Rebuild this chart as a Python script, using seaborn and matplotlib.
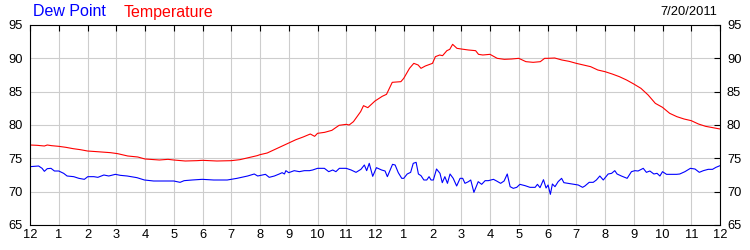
import matplotlib
matplotlib.use("Agg")
import matplotlib.pyplot as plt
import seaborn as sns
import pandas as pd

# ---- data (hours after midnight, degrees F) ----
temp_hours = [0.0, 0.25, 0.5, 0.6, 0.75, 1.0, 1.25, 1.5, 1.75, 2.0, 2.33, 2.8, 3.05, 3.4, 3.75,
              4.0, 4.5, 4.8, 5.0, 5.4, 5.8, 6.0, 6.5, 7.0, 7.3, 7.6, 7.9, 8.0, 8.25, 8.5, 8.75,
              9.0, 9.25, 9.5, 9.75, 9.9, 10.0, 10.25, 10.5, 10.75, 11.0, 11.1, 11.25, 11.5, 11.6,
              11.75, 12.0, 12.25, 12.4, 12.5, 12.6, 12.9, 13.0, 13.2, 13.35, 13.5, 13.6, 13.75,
              14.0, 14.1, 14.25, 14.35, 14.5, 14.6, 14.7, 14.85, 15.0, 15.25, 15.5, 15.6, 15.75,
              16.0, 16.25, 16.5, 16.75, 17.0, 17.25, 17.5, 17.75, 17.9, 18.0, 18.25, 18.5, 18.75,
              19.0, 19.25, 19.5, 19.75, 20.0, 20.25, 20.5, 20.75, 21.0, 21.25, 21.5, 21.75, 22.0,
              22.25, 22.5, 22.75, 23.0, 23.25, 23.5, 23.75, 24.0]
temp_values = [77.0, 76.95, 76.85, 77.0, 76.9, 76.8, 76.65, 76.45, 76.3, 76.1, 76.0, 75.85, 75.7, 75.35, 75.2,
               74.9, 74.75, 74.85, 74.75, 74.6, 74.65, 74.7, 74.6, 74.65, 74.8, 75.1, 75.4, 75.55, 75.8, 76.3, 76.8,
               77.3, 77.8, 78.2, 78.65, 78.3, 78.75, 78.9, 79.2, 79.95, 80.1, 80.0, 80.5, 82.0, 82.9,
               82.6, 83.6, 84.3, 84.6, 85.5, 86.4, 86.5, 87.0, 88.5, 89.25, 89.0, 88.5, 88.85,
               89.25, 90.25, 90.5, 90.4, 91.15, 91.35, 92.1, 91.5, 91.4, 91.25, 91.15, 90.6, 90.5,
               90.6, 90.0, 89.85, 89.9, 90.0, 89.5, 89.4, 89.5, 90.0, 90.0, 90.05, 89.75, 89.55,
               89.25, 89.0, 88.75, 88.25, 88.0, 87.65, 87.25, 86.75, 86.15, 85.5, 84.5, 83.25, 82.65,
               81.75, 81.25, 80.9, 80.65, 80.15, 79.8, 79.6, 79.4]

dew_hours = [0.0, 0.3, 0.42, 0.5, 0.6, 0.73, 0.85, 1.0, 1.17, 1.29, 1.52, 1.7, 1.89, 2.01, 2.22, 2.36,
             2.57, 2.74, 2.97, 3.14, 3.38, 3.72, 3.98, 4.3, 4.65, 5.0, 5.22, 5.36, 5.64, 5.99, 6.39,
             6.86, 7.2, 7.57, 7.8, 7.92, 8.09, 8.19, 8.32, 8.5, 8.67, 8.77, 8.85, 8.9, 9.0, 9.19,
             9.37, 9.54, 9.72, 9.83, 10.0, 10.24, 10.39, 10.53, 10.64, 10.76, 11.0, 11.17, 11.34,
             11.51, 11.63, 11.71, 11.8, 11.92, 12.05, 12.23, 12.35, 12.43, 12.61, 12.7, 12.81, 12.93,
             13.0, 13.12, 13.24, 13.33, 13.43, 13.51, 13.6, 13.7, 13.8, 13.88, 13.95, 14.03, 14.14,
             14.26, 14.34, 14.43, 14.52, 14.61, 14.72, 14.84, 14.96, 15.05, 15.13, 15.25, 15.33,
             15.44, 15.59, 15.71, 15.83, 15.94, 16.12, 16.23, 16.37, 16.49, 16.6, 16.7, 16.81, 16.93,
             17.04, 17.22, 17.39, 17.57, 17.65, 17.74, 17.86, 17.95, 18.02, 18.1, 18.17, 18.26, 18.37,
             18.49, 18.57, 18.72, 18.89, 19.07, 19.22, 19.3, 19.45, 19.59, 19.7, 19.82, 19.94, 20.11,
             20.23, 20.34, 20.42, 20.57, 20.77, 20.92, 21.04, 21.15, 21.33, 21.44, 21.56, 21.7, 21.81,
             21.91, 22.0, 22.14, 22.31, 22.49, 22.6, 22.78, 22.97, 23.13, 23.28, 23.42, 23.59, 23.74,
             23.86, 24.0]
dew_values = [73.75, 73.85, 73.5, 73.05, 73.45, 73.5, 73.1, 73.1, 72.75, 72.35, 72.25, 72.0, 71.85, 72.25, 72.25, 72.15,
              72.5, 72.35, 72.6, 72.45, 72.35, 72.1, 71.75, 71.6, 71.6, 71.6, 71.4, 71.65, 71.75, 71.85, 71.75,
              71.75, 72.0, 72.35, 72.65, 72.35, 72.5, 72.6, 72.15, 72.35, 72.65, 72.85, 72.65, 73.15, 72.85, 73.15,
              73.0, 73.15, 73.15, 73.25, 73.5, 73.5, 73.0, 73.25, 73.0, 73.5, 73.5, 73.25, 72.9,
              73.35, 74.0, 73.15, 74.25, 72.3, 73.6, 73.25, 73.1, 72.25, 74.1, 74.0, 72.85, 72.0,
              72.0, 72.65, 72.9, 74.25, 74.4, 72.65, 72.4, 71.75, 71.75, 72.25, 71.75, 71.75, 73.4,
              72.75, 71.35, 72.25, 71.25, 72.65, 72.0, 70.85, 72.0, 72.0, 71.25, 71.5, 71.75,
              69.9, 71.5, 71.1, 71.65, 71.65, 71.85, 71.6, 71.25, 71.6, 72.65, 70.75, 70.5, 70.65,
              71.1, 70.9, 70.65, 70.65, 71.1, 70.6, 71.8, 70.55, 71.0, 69.6, 71.15, 70.75, 71.5,
              72.0, 71.35, 71.25, 71.15, 71.0, 70.65, 70.85, 71.4, 71.4, 71.75, 72.35, 71.75, 72.65,
              72.75, 73.15, 72.65, 72.35, 72.0, 73.0, 73.15, 73.1, 73.5, 72.9, 73.1, 72.65, 72.75,
              72.35, 73.0, 72.6, 72.6, 72.6, 72.65, 73.0, 73.5, 73.4, 72.9, 73.15, 73.35, 73.35,
              73.65, 73.9]

hour_ticks = list(range(25))
hour_labels = ["12", "1", "2", "3", "4", "5", "6", "7", "8", "9", "10", "11",
               "12", "1", "2", "3", "4", "5", "6", "7", "8", "9", "10", "11", "12"]
y_ticks = [65, 70, 75, 80, 85, 90, 95]
series_names = ["Dew Point", "Temperature"]
series_colors = ["#0000ff", "#ff0000"]
date_text = "7/20/2011"

# ---- build long table ----
df = pd.concat([
    pd.DataFrame({"hour": dew_hours, "value": dew_values, "series": series_names[0]}),
    pd.DataFrame({"hour": temp_hours, "value": temp_values, "series": series_names[1]}),
], ignore_index=True)

sns.set_style("white")
plt.rcParams["font.family"] = ["Liberation Sans", "DejaVu Sans"]

fig = plt.figure(figsize=(7.5, 2.5), dpi=100)
ax = fig.add_axes([30 / 750, 25 / 250, 690 / 750, 200 / 250])

sns.lineplot(data=df, x="hour", y="value", hue="series",
             palette=dict(zip(series_names, series_colors)),
             linewidth=0.8, legend=False, ax=ax, sort=False, estimator=None)

ax.set_xlim(0, 24)
ax.set_ylim(65, 95)
ax.set_xticks(hour_ticks)
ax.set_xticklabels(hour_labels)
ax.set_yticks(y_ticks)
ax.set_xlabel("")
ax.set_ylabel("")
ax.grid(True, color="#cdcdcd", linewidth=0.8)
ax.set_axisbelow(True)
for s in ax.spines.values():
    s.set_color("black")
    s.set_linewidth(0.8)
ax.tick_params(axis="both", which="both", direction="in", length=4, width=0.8,
               colors="black", labelsize=9.3, top=True, right=True,
               labelright=True, labelleft=True)
ax.tick_params(axis="x", pad=3)
ax.tick_params(axis="y", pad=5)

fig.text(33 / 750, 1 - 12 / 250, series_names[0], color=series_colors[0],
         fontsize=11.5, va="center", ha="left")
fig.text(124 / 750, 1 - 12 / 250, series_names[1], color=series_colors[1],
         fontsize=11.5, va="center", ha="left")
fig.text(717 / 750, 1 - 12 / 250, date_text, color="black",
         fontsize=9.3, va="center", ha="right")

fig.savefig("out.png", dpi=100, facecolor="white")
